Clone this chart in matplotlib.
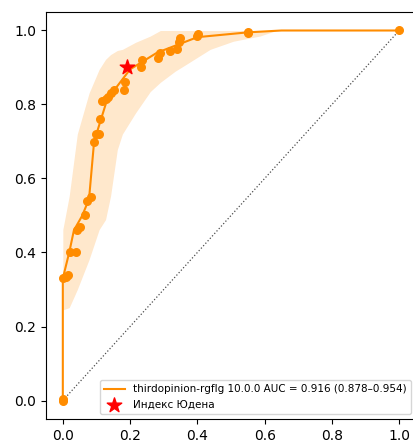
import matplotlib
matplotlib.use("Agg")
import matplotlib.pyplot as plt

# ROC points (fpr, tpr)
pt_fpr = [0.0, 0.0, 0.0, 0.01, 0.015, 0.02, 0.04, 0.043, 0.05, 0.065, 0.073, 0.083,
          0.093, 0.10, 0.107, 0.112, 0.117, 0.127, 0.135, 0.142, 0.152, 0.181, 0.186,
          0.231, 0.234, 0.282, 0.29, 0.32, 0.34, 0.344, 0.349, 0.40, 0.403, 0.55, 0.551, 1.0]
pt_tpr = [0.0, 0.005, 0.33, 0.335, 0.34, 0.40, 0.40, 0.46, 0.47, 0.50, 0.54, 0.55,
          0.70, 0.72, 0.72, 0.76, 0.81, 0.815, 0.82, 0.83, 0.84, 0.84, 0.86,
          0.90, 0.92, 0.925, 0.94, 0.945, 0.95, 0.97, 0.98, 0.985, 0.99, 0.993, 0.997, 1.0]

# mean curve
mean_fpr = [0.0, 0.0, 0.019, 0.033, 0.058, 0.078, 0.093, 0.132, 0.20, 0.28, 0.40, 0.55, 0.65, 1.0]
mean_tpr = [0.0, 0.33, 0.40, 0.46, 0.50, 0.545, 0.70, 0.814, 0.895, 0.94, 0.982, 0.995, 1.0, 1.0]

# confidence band
band_fpr = [0.0, 0.019, 0.043, 0.078, 0.108, 0.127, 0.142, 0.162, 0.177, 0.216, 0.26,
            0.29, 0.334, 0.359, 0.438, 0.507, 0.586, 0.635, 1.0]
band_lo = [0.245, 0.251, 0.30, 0.381, 0.462, 0.489, 0.553, 0.678, 0.72, 0.777, 0.835,
           0.86, 0.89, 0.904, 0.949, 0.971, 0.985, 1.0, 1.0]
band_hi = [0.462, 0.553, 0.72, 0.831, 0.895, 0.922, 0.935, 0.946, 0.949, 0.968, 0.985,
           1.0, 1.0, 1.0, 1.0, 1.0, 1.0, 1.0, 1.0]

youden = (0.19, 0.90)
label = "thirdopinion-rgflg 10.0.0 AUC = 0.916 (0.878\u20130.954)"

fig = plt.figure(figsize=(4.14, 4.44), dpi=100)
ax = fig.add_axes([46 / 414, 25 / 444, 370 / 414, 407 / 444])

ax.fill_between(band_fpr, band_lo, band_hi, color="darkorange", alpha=0.2, linewidth=0)
ax.plot(mean_fpr, mean_tpr, color="darkorange", lw=1.5, label=label)
ax.scatter(pt_fpr, pt_tpr, color="darkorange", s=30, zorder=3)
ax.plot([0, 1], [0, 1], linestyle=":", color="black", lw=0.9, alpha=0.7)
ax.scatter([youden[0]], [youden[1]], marker="*", color="red", s=120, zorder=4,
           label="Индекс Юдена")

ax.set_xlim(-0.05, 1.05)
ax.set_ylim(-0.05, 1.05)
ax.set_xticks([0.0, 0.2, 0.4, 0.6, 0.8, 1.0])
ax.set_yticks([0.0, 0.2, 0.4, 0.6, 0.8, 1.0])
ax.tick_params(labelsize=10)
ax.legend(loc="lower right", fontsize=7.5)

fig.savefig("out.png", dpi=100)
